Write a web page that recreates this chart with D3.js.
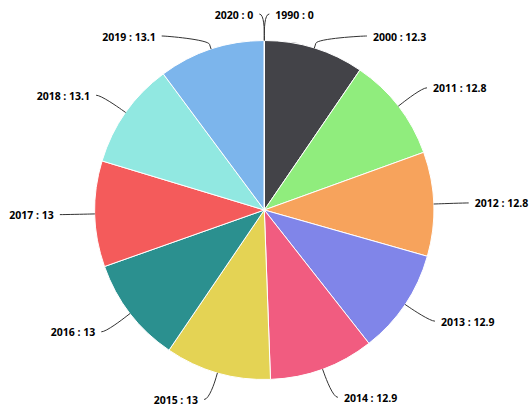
<!DOCTYPE html>
<html>
<head>
<meta charset="utf-8">
<script src="https://cdn.jsdelivr.net/npm/d3@7"></script>
<style>
    body { margin: 0; background: #fff; }
    .label { font-family: "Open Sans", sans-serif; font-size: 10.5px; font-weight: bold; fill: #000; }
</style>
</head>
<body>
<div id="chart"></div>
<script>
var years = ["1990", "2000", "2011", "2012", "2013", "2014", "2015", "2016", "2017", "2018", "2019", "2020"];
var values = [0, 12.3, 12.8, 12.8, 12.9, 12.9, 13, 13, 13, 13.1, 13.1, 0];
var palette = ["#7cb5ec", "#434348", "#90ed7d", "#f7a35c", "#8085e9", "#f15c80", "#e4d354", "#2b908f", "#f45b5b", "#91e8e1"];

var width = 529;
var height = 409;
var cx = 264.3;
var cy = 210;
var radius = 169.5;
var labelDistance = 30;
var labelHeight = 22;
var labelTop = 14;
var labelBottom = 399.5;

var data = years.map(function(y, i) {
    return { year: y, value: values[i], color: palette[i % palette.length] };
});

var svg = d3.select("#chart").append("svg")
    .attr("width", width)
    .attr("height", height);

var pie = d3.pie()
    .sort(null)
    .value(function(d) { return d.value; });

var arc = d3.arc()
    .innerRadius(0)
    .outerRadius(radius);

var arcs = pie(data);

var g = svg.append("g")
    .attr("transform", "translate(" + cx + "," + cy + ")");

g.selectAll("path.slice")
    .data(arcs)
    .enter()
    .append("path")
    .attr("class", "slice")
    .attr("d", arc)
    .style("fill", function(d) { return d.data.color; })
    .style("stroke", "#ffffff")
    .style("stroke-width", 1)
    .style("stroke-linejoin", "round");

// label placement, roughly how highcharts spreads pie labels
var outer = radius + labelDistance;
arcs.forEach(function(d) {
    var a = (d.startAngle + d.endAngle) / 2;
    d.mid = a;
    d.left = a >= Math.PI;
    d.naturalY = cy - outer * Math.cos(a);
    d.labelY = Math.max(labelTop, Math.min(labelBottom, d.naturalY));
});

[true, false].forEach(function(side) {
    var list = arcs.filter(function(d) { return d.left === side; })
        .sort(function(a, b) { return a.naturalY - b.naturalY; });
    for (var i = 1; i < list.length; i++) {
        list[i].labelY = Math.max(list[i].labelY, list[i - 1].labelY + labelHeight);
    }
    if (list.length && list[list.length - 1].labelY > labelBottom) {
        list[list.length - 1].labelY = labelBottom;
        for (var j = list.length - 2; j >= 0; j--) {
            list[j].labelY = Math.min(list[j].labelY, list[j + 1].labelY - labelHeight);
        }
    }
});

arcs.forEach(function(d) {
    var sign = d.left ? -1 : 1;
    var useY = (d.labelY < labelTop + 2 || d.labelY > labelBottom - 2) ? d.naturalY : d.labelY;
    var ang = Math.asin(Math.max(-1, Math.min(1, (useY - cy) / outer)));
    d.labelX = cx + sign * Math.cos(ang) * outer;
    var sx = Math.sin(d.mid), sy = -Math.cos(d.mid);
    d.touch = [cx + radius * sx, cy + radius * sy];
    d.brk = [cx + (radius + 5) * sx, cy + (radius + 5) * sy];
});

var labels = svg.append("g").attr("class", "labels");

labels.selectAll("path.connector")
    .data(arcs)
    .enter()
    .append("path")
    .attr("class", "connector")
    .attr("d", function(d) {
        var sign = d.left ? -1 : 1;
        var p = d3.path();
        p.moveTo(d.labelX + sign * 5, d.labelY);
        p.bezierCurveTo(d.labelX, d.labelY,
            2 * d.brk[0] - d.touch[0], 2 * d.brk[1] - d.touch[1],
            d.brk[0], d.brk[1]);
        p.lineTo(d.touch[0], d.touch[1]);
        return p.toString();
    })
    .style("fill", "none")
    .style("stroke", "#333333")
    .style("stroke-width", 1);

labels.selectAll("text.label")
    .data(arcs)
    .enter()
    .append("text")
    .attr("class", "label")
    .attr("x", function(d) { return d.labelX + (d.left ? -11 : 11); })
    .attr("y", function(d) { return d.labelY + 4.5; })
    .attr("text-anchor", function(d) { return d.left ? "end" : "start"; })
    .text(function(d) { return d.data.year + " : " + d.data.value; });
</script>
</body>
</html>
